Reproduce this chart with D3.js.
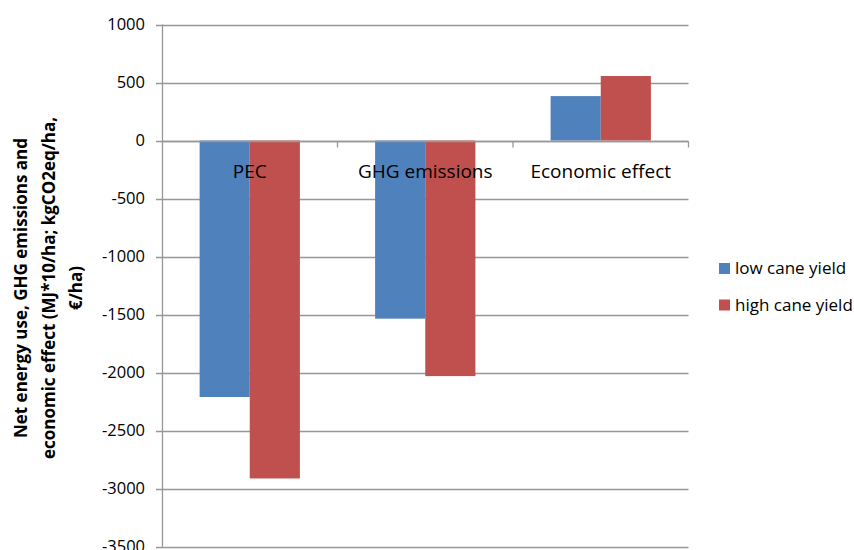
<!DOCTYPE html>
<html>
<head>
<meta charset="utf-8">
<script src="https://cdn.jsdelivr.net/npm/d3@7"></script>
<style>
  body { margin: 0; background: #fff; }
  svg { display: block; font-family: "Open Sans", "Noto Sans", sans-serif; }
</style>
</head>
<body>
<div id="chart"></div>
<script>
const categories = ["PEC", "GHG emissions", "Economic effect"];
const seriesNames = ["low cane yield", "high cane yield"];
const lowYield = [-2210, -1535, 383];
const highYield = [-2912, -2030, 556];
const yTicks = [1000, 500, 0, -500, -1000, -1500, -2000, -2500, -3000, -3500];
const colors = ["#4F81BD", "#C0504D"];

const width = 854, height = 550;
const plot = { left: 162, right: 688.5, top: 24.5, bottom: 546.7 };

const svg = d3.select("#chart").append("svg")
    .attr("width", width)
    .attr("height", height);

const y = d3.scaleLinear().domain([-3500, 1000]).range([plot.bottom, plot.top]);
const x = d3.scaleBand().domain(categories).range([plot.left, plot.right]);
const xInner = d3.scaleBand().domain(seriesNames)
    .range([0, x.bandwidth()]).paddingOuter(0.75);

// gridlines
svg.append("g")
    .selectAll("line")
    .data(yTicks)
    .join("line")
    .attr("x1", plot.left - 6)
    .attr("x2", plot.right)
    .attr("y1", d => Math.round(y(d)) + 0.5)
    .attr("y2", d => Math.round(y(d)) + 0.5)
    .attr("stroke", "#979797")
    .attr("stroke-width", 1.3);

// bars
const rows = categories.map((c, i) => ({ cat: c, values: [lowYield[i], highYield[i]] }));
svg.append("g")
    .selectAll("g")
    .data(rows)
    .join("g")
    .attr("transform", d => `translate(${x(d.cat)},0)`)
    .selectAll("rect")
    .data(d => d.values.map((v, j) => ({ name: seriesNames[j], value: v, j })))
    .join("rect")
    .attr("x", d => xInner(d.name))
    .attr("width", xInner.bandwidth())
    .attr("y", d => y(Math.max(0, d.value)))
    .attr("height", d => Math.abs(y(d.value) - y(0)))
    .attr("fill", d => colors[d.j]);

// y axis line
svg.append("line")
    .attr("x1", plot.left + 0.5).attr("x2", plot.left + 0.5)
    .attr("y1", plot.top).attr("y2", plot.bottom)
    .attr("stroke", "#979797").attr("stroke-width", 1.3);

// x axis at zero with tick marks at category boundaries
const y0 = Math.round(y(0)) + 0.5;
svg.append("line")
    .attr("x1", plot.left).attr("x2", plot.right)
    .attr("y1", y0).attr("y2", y0)
    .attr("stroke", "#979797").attr("stroke-width", 1.3);
svg.append("g")
    .selectAll("line")
    .data(categories.slice(1).map(c => x(c)).concat([plot.right]))
    .join("line")
    .attr("x1", d => d).attr("x2", d => d)
    .attr("y1", y0).attr("y2", y0 + 6)
    .attr("stroke", "#979797").attr("stroke-width", 1.3);

// y tick labels
svg.append("g")
    .selectAll("text")
    .data(yTicks)
    .join("text")
    .attr("x", 145)
    .attr("y", d => y(d))
    .attr("dy", "0.35em")
    .attr("text-anchor", "end")
    .attr("font-size", 16.5)
    .attr("fill", "#000")
    .text(d => d);

// category labels
svg.append("g")
    .selectAll("text")
    .data(categories)
    .join("text")
    .attr("x", d => x(d) + x.bandwidth() / 2)
    .attr("y", 178)
    .attr("text-anchor", "middle")
    .attr("font-size", 19)
    .attr("fill", "#000")
    .text(d => d);

// y axis title
const titleLines = [
    "Net energy use, GHG emissions and",
    "economic effect (MJ*10/ha; kgCO2eq/ha,",
    "€/ha)"
];
svg.append("g")
    .selectAll("text")
    .data(titleLines)
    .join("text")
    .attr("transform", (d, i) => `translate(${27 + i * 27.5},288) rotate(-90)`)
    .attr("text-anchor", "middle")
    .attr("font-size", 17)
    .attr("font-weight", "bold")
    .attr("fill", "#000")
    .text(d => d);

// legend
const legend = svg.append("g")
    .selectAll("g")
    .data(seriesNames)
    .join("g")
    .attr("transform", (d, i) => `translate(719,${263 + i * 36.5})`);
legend.append("rect")
    .attr("width", 11).attr("height", 11)
    .attr("fill", (d, i) => colors[i]);
legend.append("text")
    .attr("x", 16)
    .attr("y", 11)
    .attr("font-size", 17)
    .attr("fill", "#000")
    .text(d => d);
</script>
</body>
</html>
